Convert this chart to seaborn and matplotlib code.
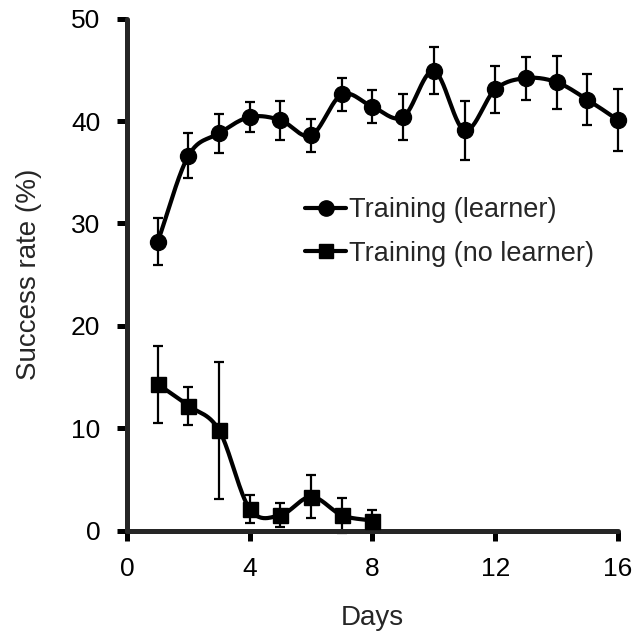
import numpy as np
import pandas as pd
import matplotlib
matplotlib.use("Agg")
import matplotlib.pyplot as plt
from matplotlib.lines import Line2D
import seaborn as sns

days_learner = [1, 2, 3, 4, 5, 6, 7, 8, 9, 10, 11, 12, 13, 14, 15, 16]
rate_learner = [28.2, 36.6, 38.8, 40.4, 40.1, 38.6, 42.6, 41.4, 40.4, 44.9, 39.1, 43.1, 44.2, 43.8, 42.1, 40.1]
err_learner = [2.3, 2.2, 1.9, 1.5, 1.9, 1.6, 1.6, 1.6, 2.2, 2.3, 2.9, 2.3, 2.1, 2.6, 2.5, 3.0]

days_nolearner = [1, 2, 3, 4, 5, 6, 7, 8]
rate_nolearner = [14.3, 12.2, 9.8, 2.1, 1.5, 3.3, 1.5, 0.95]
err_nolearner = [3.75, 1.85, 6.7, 1.4, 1.15, 2.1, 1.7, 1.1]

label_learner = "Training (learner)"
label_nolearner = "Training (no learner)"


def smooth(x, y, n=30):
    # Catmull-Rom style smoothing (like a spreadsheet "smoothed line")
    x = np.asarray(x, float)
    y = np.asarray(y, float)
    px = np.concatenate([[2 * x[0] - x[1]], x, [2 * x[-1] - x[-2]]])
    py = np.concatenate([[2 * y[0] - y[1]], y, [2 * y[-1] - y[-2]]])
    xs, ys = [], []
    t = np.linspace(0, 1, n)
    for i in range(1, len(px) - 2):
        p0, p1, p2, p3 = (np.array([px[j], py[j]]) for j in range(i - 1, i + 3))
        b1 = p1 + (p2 - p0) / 6.0
        b2 = p2 - (p3 - p1) / 6.0
        pts = ((1 - t) ** 3)[:, None] * p1 + (3 * (1 - t) ** 2 * t)[:, None] * b1 \
            + (3 * (1 - t) * t ** 2)[:, None] * b2 + (t ** 3)[:, None] * p2
        xs.extend(pts[:, 0])
        ys.extend(pts[:, 1])
    return np.array(xs), np.array(ys)


sns.set_style("ticks")
plt.rcParams["font.family"] = ["Liberation Sans", "DejaVu Sans"]

FS = 19
LW = 3.0

fig = plt.figure(figsize=(6.35, 6.33), dpi=100)
ax = fig.add_axes([0.2, 0.1619, 0.7732, 0.8085])

for days, rate, err, mk, ms in [
    (days_learner, rate_learner, err_learner, "o", 11.5),
    (days_nolearner, rate_nolearner, err_nolearner, "s", 10.8),
]:
    sx, sy = smooth(days, rate)
    sns.lineplot(x=sx, y=sy, ax=ax, color="black", lw=LW, sort=False,
                 estimator=None, clip_on=False, zorder=3)
    ax.errorbar(days, rate, yerr=err, fmt="none", ecolor="black",
                elinewidth=1.6, capsize=3.4, capthick=1.6, zorder=2, clip_on=False)
    ax.plot(days, rate, linestyle="none", marker=mk, ms=ms, color="black",
            zorder=4, clip_on=False)

ax.set_xlim(0, 16)
ax.set_ylim(0, 50)
ax.set_xticks([0, 4, 8, 12, 16])
ax.set_yticks([0, 10, 20, 30, 40, 50])
sns.despine(ax=ax)
for s in ["left", "bottom"]:
    ax.spines[s].set_linewidth(3.6)
    ax.spines[s].set_capstyle("round")
ax.tick_params(axis="both", width=3.6, length=7.2, labelsize=FS, pad=12, colors="black")
ax.set_xlabel("Days", fontsize=20, labelpad=17)
ax.set_ylabel("Success rate (%)", fontsize=20, labelpad=21)

handles = [
    Line2D([], [], color="black", lw=LW, marker="o", ms=11),
    Line2D([], [], color="black", lw=LW, marker="s", ms=10),
]
ax.legend(handles, [label_learner, label_nolearner], frameon=False, fontsize=19.5,
          loc="upper left", bbox_to_anchor=(0.3625, 0.651), handlelength=1.52,
          handletextpad=0.12, labelspacing=0.64, borderpad=0, borderaxespad=0)

fig.savefig("out.png", dpi=100)
